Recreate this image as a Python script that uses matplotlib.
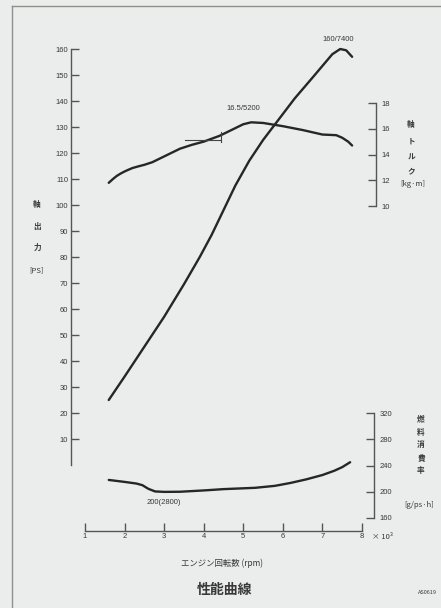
import matplotlib
matplotlib.use('Agg')
import matplotlib.pyplot as plt
from matplotlib.lines import Line2D

# データ (回転数は ×1000 rpm)
rpm_ps = [1.6, 2.0, 2.5, 3.0, 3.5, 3.9, 4.2, 4.5, 4.8, 5.15, 5.5, 5.8, 6.3, 6.75, 7.0, 7.25, 7.45, 7.6, 7.75]
ps = [25, 34, 45.5, 57, 69.5, 80, 88.5, 98, 107.5, 117, 125, 131, 141, 149, 153.5, 158, 160, 159.5, 157]

rpm_tq = [1.6, 1.7, 1.8, 1.9, 2.0, 2.1, 2.2, 2.35, 2.5, 2.7, 3.0, 3.4, 3.7, 4.0, 4.4, 4.6, 4.8, 5.0, 5.2,
          5.5, 6.0, 6.5, 7.0, 7.35, 7.5, 7.65, 7.75]
tq = [11.8, 12.08, 12.33, 12.52, 12.68, 12.82, 12.95, 13.08, 13.2, 13.4, 13.85, 14.45, 14.75, 15.0, 15.45,
      15.75, 16.05, 16.35, 16.5, 16.45, 16.2, 15.9, 15.55, 15.5, 15.3, 15.0, 14.7]

rpm_fc = [1.6, 2.0, 2.3, 2.45, 2.6, 2.77, 3.0, 3.4, 4.0, 4.5, 5.3, 5.8, 6.2, 6.6, 7.0, 7.3, 7.5, 7.7]
fc = [218, 215, 212.5, 210, 204.5, 200.5, 199.8, 200, 202, 204, 206, 209, 213.5, 219, 225.5, 232, 237.5, 245]

# トルク曲線の小さい目印
mark_x = [3.53, 4.43]
mark_y = 15.1
mark_v = [14.95, 15.75]

x_ticks = [1, 2, 3, 4, 5, 6, 7, 8]
ps_ticks = list(range(10, 170, 10))
tq_ticks = [10, 12, 14, 16, 18]
fc_ticks = [160, 200, 240, 280, 320]

# 画像の目盛り位置から換算 (px)
W, H = 441, 608
px_x1, px_x8 = 85, 362
sx = (px_x8 - px_x1) / 7
py_ps0, sps = 465, 2.6
py_tq10, stq = 206, 12.875
py_fc160, sfc = 518, 0.65625

bg = '#eaedeb'
ink = '#262626'
txt = '#383838'
jp = ['Noto Sans CJK JP', 'DejaVu Sans']

fig = plt.figure(figsize=(W / 100, H / 100), dpi=100, facecolor=bg)
ax = fig.add_axes([0, 0, 1, 1])
ax.set_facecolor(bg)
ax.set_xlim(1 - px_x1 / sx, 1 + (W - px_x1) / sx)
ax.set_ylim(-(H - py_ps0) / sps, py_ps0 / sps)

ax_t = ax.twinx()
ax_t.set_ylim(10 - (H - py_tq10) / stq, 10 + py_tq10 / stq)
ax_f = ax.twinx()
ax_f.set_ylim(160 - (H - py_fc160) / sfc, 160 + py_fc160 / sfc)

for a in (ax, ax_t, ax_f):
    for s in a.spines.values():
        s.set_visible(False)
        s.set_color('#555555')
        s.set_linewidth(1.0)

# 出力軸
ax.spines['left'].set_visible(True)
ax.spines['left'].set_position(('data', 1 - 14 / sx))
ax.spines['left'].set_bounds(0, 160)
ax.set_yticks(ps_ticks)
ax.tick_params(axis='y', direction='in', length=6, width=1.0, color='#555555',
               pad=2, labelsize=5.5, labelcolor=txt)

# 回転数軸
ax.spines['bottom'].set_visible(True)
ax.spines['bottom'].set_position(('data', -(531 - py_ps0) / sps))
ax.spines['bottom'].set_bounds(1, 8)
ax.set_xticks(x_ticks)
ax.tick_params(axis='x', direction='in', length=6, width=1.0, color='#555555',
               pad=1.5, labelsize=5.5, labelcolor=txt)

# トルク軸
ax_t.spines['right'].set_visible(True)
ax_t.spines['right'].set_position(('data', 1 + (376 - px_x1) / sx))
ax_t.spines['right'].set_bounds(10, 18)
ax_t.set_yticks(tq_ticks)
ax_t.tick_params(axis='y', direction='in', length=6, width=1.0, color='#555555',
                 pad=4, labelsize=5.5, labelcolor=txt)

# 燃料消費率軸
ax_f.spines['right'].set_visible(True)
ax_f.spines['right'].set_position(('data', 1 + (374 - px_x1) / sx))
ax_f.spines['right'].set_bounds(160, 320)
ax_f.set_yticks(fc_ticks)
ax_f.tick_params(axis='y', direction='in', length=6, width=1.0, color='#555555',
                 pad=4, labelsize=5.5, labelcolor=txt)

for lab in ax.get_xticklabels() + ax.get_yticklabels() + ax_t.get_yticklabels() + ax_f.get_yticklabels():
    lab.set_family('Liberation Sans')

# 曲線
kw = dict(color=ink, lw=1.7, solid_capstyle='round', solid_joinstyle='round')
ax.plot(rpm_ps, ps, **kw)
ax_t.plot(rpm_tq, tq, **kw)
ax_f.plot(rpm_fc, fc, **kw)
ax_t.plot(mark_x, [mark_y, mark_y], color='#444444', lw=0.8)
ax_t.plot([mark_x[1], mark_x[1]], mark_v, color='#444444', lw=0.8)

# 注記
ax.text(7.4, 163.5, '160/7400', fontsize=5.5, color=txt, ha='center', va='center',
        family='Liberation Sans')
ax_t.text(5.0, 17.6, '16.5/5200', fontsize=5.5, color=txt, ha='center', va='center',
          family='Liberation Sans')
ax_f.text(3.0, 183, '200(2800)', fontsize=5.5, color=txt, ha='center', va='center',
          family='Liberation Sans')

def ftext(x, y, s, **kw):
    fig.text(x / W, 1 - y / H, s, ha='center', va='center', color=txt, family=jp, **kw)

# 軸ラベル
for ch, y in zip(['軸', '出', '力'], [205, 226, 247]):
    ftext(37, y, ch, fontsize=5.5, weight='bold')
ftext(36, 270, '[PS]', fontsize=5.5)

for ch, y in zip(['軸', 'ト', 'ル', 'ク'], [124, 141, 157, 171]):
    ftext(411, y, ch, fontsize=5.5, weight='bold')
ftext(413, 184, '[kg·m]', fontsize=5.5)

for ch, y in zip(['燃', '料', '消', '費', '率'], [419, 432, 445, 458, 471]):
    ftext(421, y, ch, fontsize=5.5, weight='bold')
ftext(419, 505, '[g/ps·h]', fontsize=5.5)

ftext(382, 537, '× 10³', fontsize=5.5)
ftext(222, 563, 'エンジン回転数 (rpm)', fontsize=6)
ftext(225, 590, '性能曲線', fontsize=10, weight='bold')
ftext(427, 592, 'AS0619', fontsize=4)

# 外枠
fig.add_artist(Line2D([12 / W, 1], [1 - 6 / H, 1 - 6 / H], transform=fig.transFigure,
                      color='#8c918a', lw=1.0))
fig.add_artist(Line2D([12 / W, 12 / W], [0, 1 - 6 / H], transform=fig.transFigure,
                      color='#8c918a', lw=1.0))

fig.savefig('out.png', dpi=100, facecolor=bg)
